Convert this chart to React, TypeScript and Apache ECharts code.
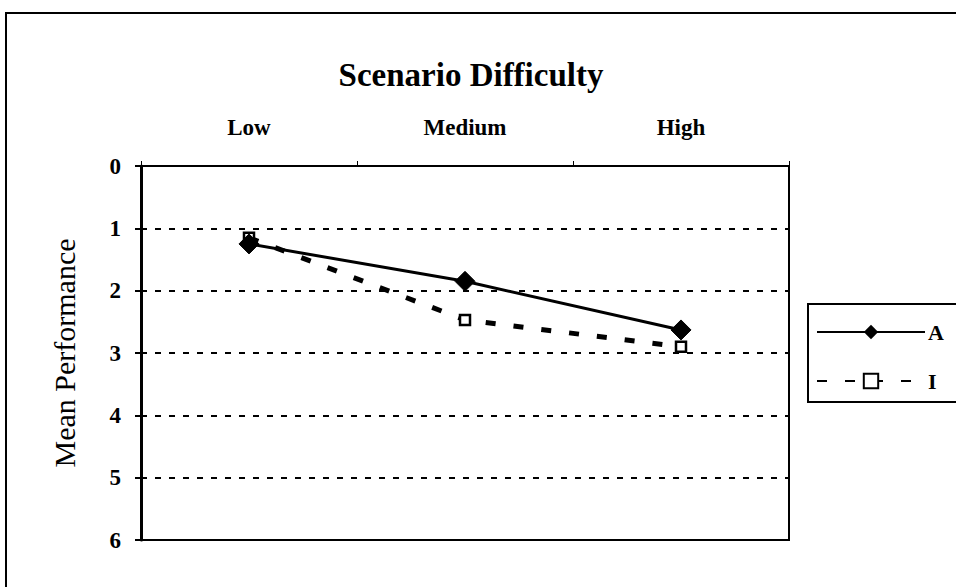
import React, { useEffect, useRef } from "react";
import * as echarts from "echarts";

const categories = ["Low", "Medium", "High"];
const seriesA = [1.25, 1.85, 2.63];
const seriesI = [1.15, 2.47, 2.9];
const yTicks = [0, 1, 2, 3, 4, 5, 6];

export default function App() {
  const ref = useRef<HTMLDivElement>(null);
  useEffect(() => {
    if (!ref.current) return;
    const chart = echarts.init(ref.current, null, { renderer: "svg" });
    const font = "'Liberation Serif', 'Times New Roman', serif";
    chart.setOption({
      animation: false,
      backgroundColor: "#ffffff",
      textStyle: { fontFamily: font, color: "#000" },
      title: {
        text: "Scenario Difficulty",
        left: 466,
        textAlign: "center",
        top: 53,
        textStyle: { fontFamily: font, fontSize: 33, fontWeight: "bold", color: "#000" },
      },
      graphic: [
        {
          type: "rect",
          shape: { x: 6, y: 13, width: 1000, height: 1000 },
          style: { fill: "none", stroke: "#000", lineWidth: 2 },
          silent: true,
        },
      ],
      legend: {
        orient: "vertical",
        left: 808,
        top: 304,
        itemWidth: 108,
        itemHeight: 18,
        itemGap: 27,
        padding: [17, 40, 10, 8],
        borderColor: "#000",
        borderWidth: 2,
        textStyle: { fontFamily: font, fontSize: 22, fontWeight: "bold", color: "#000", padding: [0, 0, 0, -2] },
        data: ["A", "I"],
      },
      grid: {
        left: 141,
        right: 167,
        top: 166,
        bottom: 47,
        show: true,
        borderColor: "#000",
        borderWidth: 2,
      },
      xAxis: {
        type: "category",
        position: "top",
        data: categories,
        boundaryGap: true,
        axisLine: { show: true, lineStyle: { color: "#000", width: 2 } },
        axisTick: { show: true, inside: false, length: 5, lineStyle: { color: "#000", width: 1 } },
        axisLabel: { fontFamily: font, fontSize: 23, fontWeight: "bold", color: "#000", margin: 27 },
      },
      yAxis: {
        type: "value",
        inverse: true,
        min: yTicks[0],
        max: yTicks[yTicks.length - 1],
        interval: 1,
        name: "Mean Performance",
        nameLocation: "middle",
        nameGap: 62,
        nameRotate: 90,
        nameTextStyle: { fontFamily: font, fontSize: 30, color: "#000" },
        axisLine: { show: true, lineStyle: { color: "#000", width: 3 } },
        axisTick: { show: true, length: 6, lineStyle: { color: "#000", width: 2 } },
        axisLabel: { fontFamily: font, fontSize: 23, fontWeight: "bold", color: "#000", margin: 20 },
        splitLine: { show: true, lineStyle: { color: "#000", width: 2, type: [6, 8] } },
      },
      series: [
        {
          name: "A",
          type: "line",
          data: seriesA,
          symbol: "diamond",
          symbolSize: 20,
          lineStyle: { color: "#000", width: 3 },
          itemStyle: { color: "#000", borderColor: "#000" },
          z: 3,
        },
        {
          name: "I",
          type: "line",
          data: seriesI,
          symbol: "rect",
          symbolSize: 10,
          lineStyle: { color: "#000", width: 5, type: [10, 18] },
          itemStyle: { color: "#fff", borderColor: "#000", borderWidth: 2.5 },
          z: 2,
        },
      ],
    });
    return () => chart.dispose();
  }, []);
  return (
    <div
      ref={ref}
      style={{ position: "fixed", left: 0, top: 0, width: 956, height: 587, background: "#fff" }}
    />
  );
}
